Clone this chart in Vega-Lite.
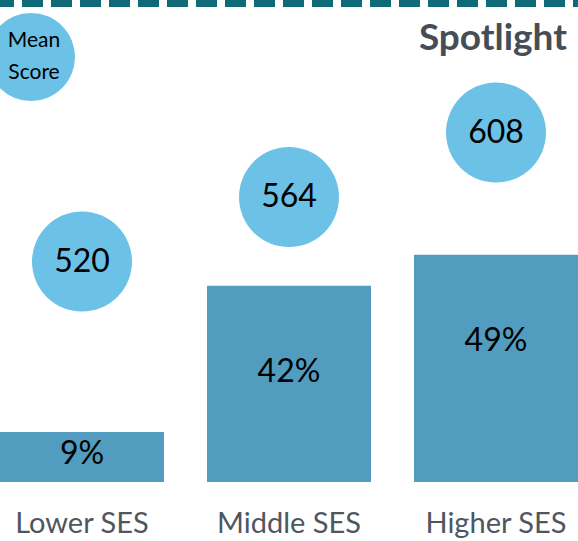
{
  "$schema": "https://vega.github.io/schema/vega-lite/v6.json",
  "width": 578,
  "height": 482,
  "autosize": {"type": "none"},
  "padding": {"top": 0, "left": 0, "right": 0, "bottom": 59},
  "background": "white",
  "config": {
    "view": {"stroke": null},
    "font": "Lato",
    "style": {"guide-label": {"lineHeight": 32}}
  },
  "title": {
    "text": "Spotlight",
    "anchor": "end",
    "frame": "group",
    "orient": "top",
    "offset": -87,
    "baseline": "alphabetic",
    "fontSize": 37,
    "fontWeight": "bold",
    "color": "#474d57",
    "dx": -11,
    "font": "Lato"
  },
  "data": {
    "values": [
      {"group": "Lower SES", "pct": 9, "pct_label": "9%", "score": 520, "metric": "Mean Score"},
      {"group": "Middle SES", "pct": 42, "pct_label": "42%", "score": 564, "metric": "Mean Score"},
      {"group": "Higher SES", "pct": 49, "pct_label": "49%", "score": 608, "metric": "Mean Score"}
    ]
  },
  "layer": [
    {
      "encoding": {
        "y": {"field": "pct", "type": "quantitative", "scale": {"domain": [-2.3, 106.5], "nice": false, "zero": false}, "axis": null}
      },
      "layer": [
        {
          "mark": {"type": "bar", "color": "#529dbf"},
          "encoding": {
            "x": {"field": "group", "type": "nominal", "sort": null, "scale": {"paddingInner": 0.2077, "paddingOuter": 0},
                  "axis": {"title": null, "domain": false, "ticks": false, "labelFontSize": 29, "labelColor": "#50565e", "labelPadding": 27, "labelAngle": 0, "labelFont": "Lato"}},
            "y2": {"datum": -2.3}
          }
        },
        {
          "transform": [{"filter": "datum.pct >= 20"}],
          "mark": {"type": "text", "fontSize": 32, "color": "black", "baseline": "middle", "dy": 86, "font": "Lato"},
          "encoding": {
            "x": {"field": "group", "type": "nominal", "sort": null, "scale": {"paddingInner": 0.2077, "paddingOuter": 0},
                  "axis": {"title": null, "domain": false, "ticks": false, "labelFontSize": 29, "labelColor": "#50565e", "labelPadding": 27, "labelAngle": 0, "labelFont": "Lato"}},
            "text": {"field": "pct_label", "type": "nominal"}
          }
        },
        {
          "transform": [{"filter": "datum.pct < 20"}],
          "mark": {"type": "text", "fontSize": 32, "color": "black", "baseline": "middle", "dy": 22, "font": "Lato"},
          "encoding": {
            "x": {"field": "group", "type": "nominal", "sort": null, "scale": {"paddingInner": 0.2077, "paddingOuter": 0},
                  "axis": {"title": null, "domain": false, "ticks": false, "labelFontSize": 29, "labelColor": "#50565e", "labelPadding": 27, "labelAngle": 0, "labelFont": "Lato"}},
            "text": {"field": "pct_label", "type": "nominal"}
          }
        },
        {
          "mark": {"type": "rule", "color": "#0f6a77", "strokeWidth": 7, "strokeDash": [21, 8], "strokeDashOffset": 16},
          "encoding": {"y": {"datum": 105.7, "type": "quantitative"}}
        }
      ]
    },
    {
      "encoding": {
        "x": {"field": "group", "type": "nominal", "sort": null, "scale": {"paddingInner": 0.2077, "paddingOuter": 0},
              "axis": {"title": null, "domain": false, "ticks": false, "labelFontSize": 29, "labelColor": "#50565e", "labelPadding": 27, "labelAngle": 0, "labelFont": "Lato"}},
        "y": {"field": "score", "type": "quantitative", "scale": {"domain": [369.6, 698.4], "nice": false, "zero": false}, "axis": null}
      },
      "layer": [
        {
          "mark": {"type": "point", "filled": true, "opacity": 1, "size": 10000, "shape": "circle"},
          "encoding": {
            "color": {
              "field": "metric", "type": "nominal",
              "scale": {"range": ["#6cc1e6"]},
              "legend": {
                "title": null, "orient": "none", "legendX": -13, "legendY": 13,
                "symbolType": "circle", "symbolSize": 7744, "symbolStrokeWidth": 0, "symbolOpacity": 1,
                "labelOffset": -41, "labelAlign": "center", "labelBaseline": "line-bottom",
                "labelFontSize": 21, "labelColor": "black", "labelFont": "Lato",
                "labelExpr": "['Mean','Score']", "labelLimit": 0, "padding": 0
              }
            }
          }
        },
        {
          "mark": {"type": "text", "fontSize": 32, "color": "black", "baseline": "middle", "font": "Lato"},
          "encoding": {"text": {"field": "score", "type": "quantitative"}}
        }
      ]
    }
  ],
  "resolve": {"scale": {"y": "independent"}}
}
